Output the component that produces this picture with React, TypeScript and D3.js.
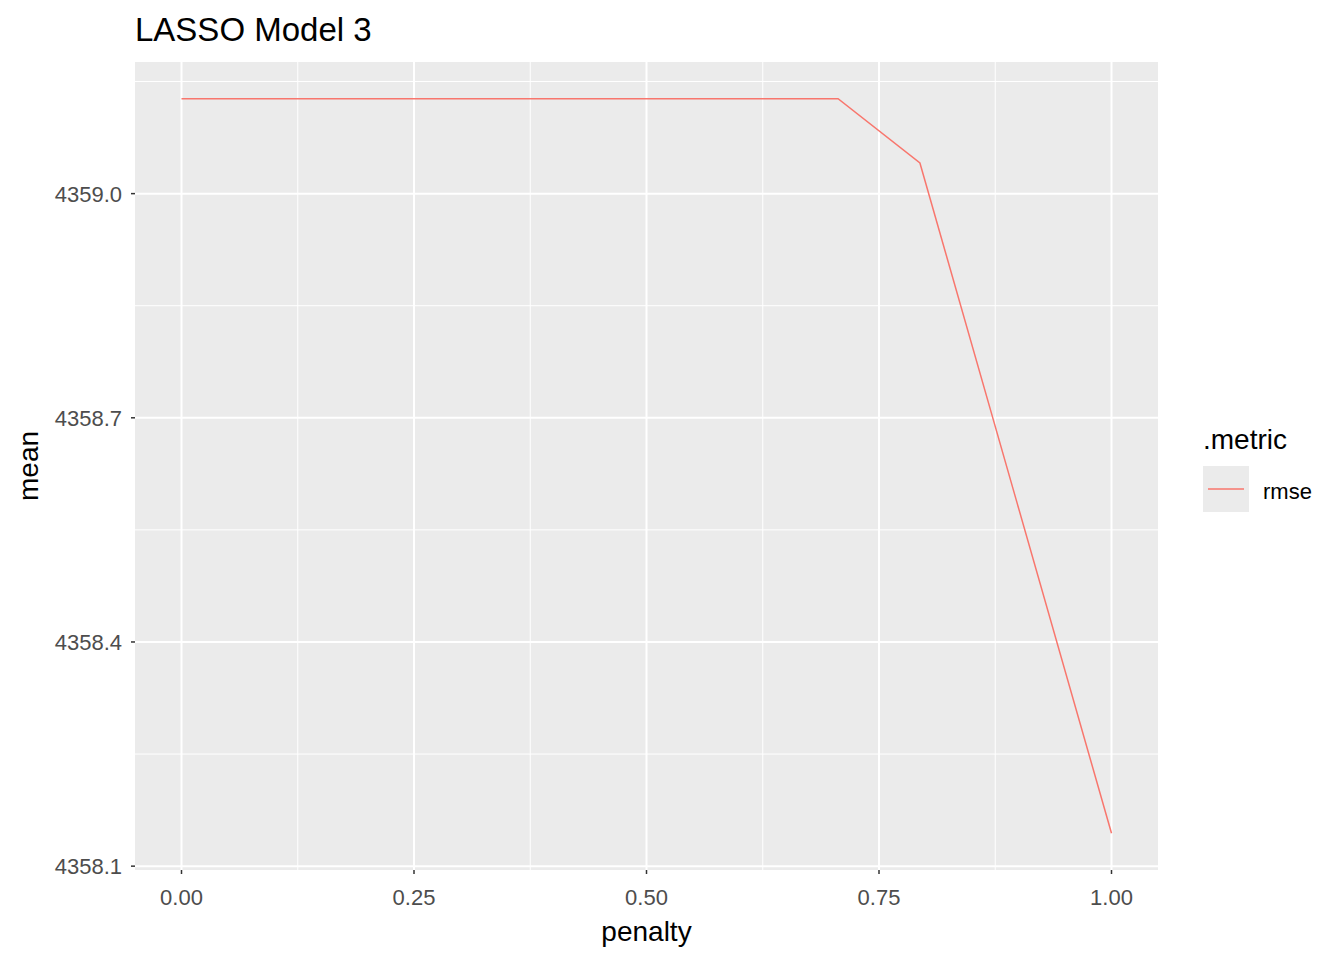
import * as d3 from 'd3'
import React from 'react'

const penalty = [0, 0.706, 0.794, 1.0]
const meanRmse = [4359.127, 4359.127, 4359.041, 4358.144]
const xTicks = [0, 0.25, 0.5, 0.75, 1.0]
const yTicks = [4358.1, 4358.4, 4358.7, 4359.0]

const W = 1344
const H = 960
const panel = { left: 135, right: 1158, top: 62, bottom: 870 }
const font = 'Liberation Sans, Arial, sans-serif'

const App: React.FunctionComponent = () => {
  const xExt = d3.extent(penalty) as [number, number]
  const yExt = d3.extent(meanRmse) as [number, number]
  const xPad = (xExt[1] - xExt[0]) * 0.05
  const yPad = (yExt[1] - yExt[0]) * 0.05
  const x = d3.scaleLinear().domain([xExt[0] - xPad, xExt[1] + xPad]).range([panel.left, panel.right])
  const y = d3.scaleLinear().domain([yExt[0] - yPad, yExt[1] + yPad]).range([panel.bottom, panel.top])

  const xMinor = xTicks.slice(1).map((t, i) => (t + xTicks[i]) / 2)
  const yMinor = [...yTicks.slice(1).map((t, i) => (t + yTicks[i]) / 2), yTicks[yTicks.length - 1] + 0.15]

  const line = d3
    .line<number>()
    .x((d, i) => x(penalty[i]))
    .y((d) => y(d))

  return (
    <svg width={W} height={H} style={{ position: 'absolute', left: 0, top: 0, background: 'white' }}>
      <rect x={panel.left} y={panel.top} width={panel.right - panel.left} height={panel.bottom - panel.top} fill="#ebebeb" />
      {xMinor.map((t) => (
        <line key={'xm' + t} x1={x(t)} x2={x(t)} y1={panel.top} y2={panel.bottom} stroke="white" strokeWidth={1} />
      ))}
      {yMinor.map((t) => (
        <line key={'ym' + t} y1={y(t)} y2={y(t)} x1={panel.left} x2={panel.right} stroke="white" strokeWidth={1} />
      ))}
      {xTicks.map((t) => (
        <line key={'x' + t} x1={x(t)} x2={x(t)} y1={panel.top} y2={panel.bottom} stroke="white" strokeWidth={2} />
      ))}
      {yTicks.map((t) => (
        <line key={'y' + t} y1={y(t)} y2={y(t)} x1={panel.left} x2={panel.right} stroke="white" strokeWidth={2} />
      ))}
      <path d={line(meanRmse) ?? ''} fill="none" stroke="#f8766d" strokeWidth={1.5} />

      {xTicks.map((t) => (
        <g key={'xt' + t}>
          <line x1={x(t)} x2={x(t)} y1={panel.bottom} y2={panel.bottom + 4} stroke="#333" strokeWidth={1.5} />
          <text x={x(t)} y={panel.bottom + 35} textAnchor="middle" fontFamily={font} fontSize={22} fill="#4d4d4d">
            {t.toFixed(2)}
          </text>
        </g>
      ))}
      {yTicks.map((t) => (
        <g key={'yt' + t}>
          <line x1={panel.left - 4} x2={panel.left} y1={y(t)} y2={y(t)} stroke="#333" strokeWidth={1.5} />
          <text x={panel.left - 13} y={y(t) + 8} textAnchor="end" fontFamily={font} fontSize={22} fill="#4d4d4d">
            {t.toFixed(1)}
          </text>
        </g>
      ))}

      <text x={(panel.left + panel.right) / 2} y={941} textAnchor="middle" fontFamily={font} fontSize={28}>penalty</text>
      <text transform={`translate(38,${(panel.top + panel.bottom) / 2}) rotate(-90)`} textAnchor="middle" fontFamily={font} fontSize={28}>mean</text>
      <text x={135} y={41} fontFamily={font} fontSize={33}>LASSO Model 3</text>

      <text x={1203} y={449} fontFamily={font} fontSize={28}>.metric</text>
      <rect x={1203} y={466} width={46} height={46} fill="#ebebeb" />
      <line x1={1208} x2={1244} y1={489} y2={489} stroke="#f8766d" strokeWidth={1.5} />
      <text x={1263} y={499} fontFamily={font} fontSize={22}>rmse</text>
    </svg>
  )
}

export default App
